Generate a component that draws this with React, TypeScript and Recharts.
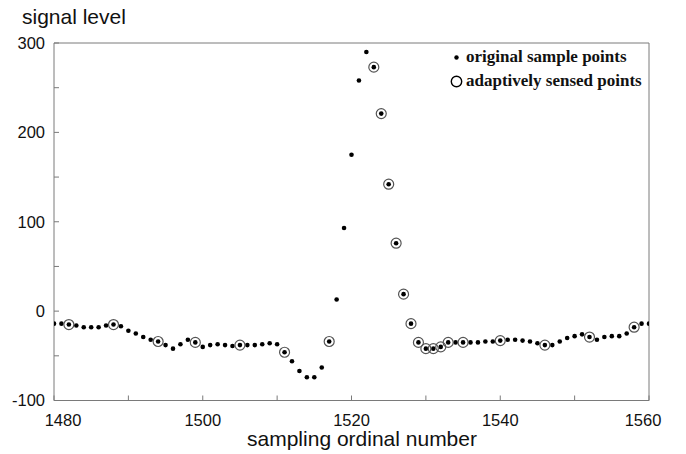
import { ScatterChart, Scatter, XAxis, YAxis, Legend } from 'recharts';

// sample ordinal of the first point; one sample per ordinal after it
const firstSample = 1480;

const signalLevel = [
  -14, -14, -15, -16, -18, -18, -18, -16, -15, -17,
  -22, -25, -29, -32, -34, -38, -42, -37, -32, -35,
  -40, -38, -37, -38, -39, -38, -38, -38, -37, -36,
  -37, -46, -56, -67, -74, -74, -63, -34, 13, 93,
  175, 258, 290, 273, 221, 142, 76, 19, -14, -35,
  -42, -42, -40, -35, -35, -35, -35, -35, -34, -34,
  -33, -32, -32, -33, -34, -36, -38, -38, -34, -30,
  -28, -26, -29, -32, -29, -28, -28, -25, -18, -14,
  -14,
];

const sensedOrdinals = [
  1482, 1488, 1494, 1499, 1505, 1511, 1517, 1523, 1524, 1525, 1526, 1527,
  1528, 1529, 1530, 1531, 1532, 1533, 1535, 1540, 1546, 1552, 1558,
];

const xTicks = [1480, 1490, 1500, 1510, 1520, 1530, 1540, 1550, 1560];
const xLabelled = [1480, 1500, 1520, 1540, 1560];
const yTicks = [-100, -50, 0, 50, 100, 150, 200, 250, 300];
const yLabelled = [-100, 0, 100, 200, 300];

const sampleName = 'original sample points';
const sensedName = 'adaptively sensed points';
const legendOrder = [sampleName, sensedName];

const samples = signalLevel.map((level, i) => ({ n: firstSample + i, level }));
const sensed = sensedOrdinals.map((n) => ({ n, level: signalLevel[n - firstSample] }));

const axisGrey = '#7a7a7a';
const sans = '"Liberation Sans", Arial, sans-serif';

function XTick(props: any) {
  const { x, y, payload } = props;
  if (!xLabelled.includes(payload.value)) return <g />;
  let dx = 0;
  if (payload.value === 1480) dx = 9;
  if (payload.value === 1560) dx = -6;
  return (
    <text x={x + dx} y={y + 30} textAnchor="middle" fontFamily={sans} fontSize={16.5} fill="#111">
      {payload.value}
    </text>
  );
}

function YTick(props: any) {
  const { x, y, payload } = props;
  if (!yLabelled.includes(payload.value)) return <g />;
  return (
    <text x={x - 14} y={y} dy="0.35em" textAnchor="end" fontFamily={sans} fontSize={16.5} fill="#111">
      {payload.value}
    </text>
  );
}

function LegendBox(props: any) {
  const payload = [...(props.payload ?? [])].sort(
    (a: any, b: any) => legendOrder.indexOf(a.value) - legendOrder.indexOf(b.value)
  );
  return (
    <div
      style={{
        fontFamily: '"Liberation Serif", "Times New Roman", serif',
        fontWeight: 'bold',
        fontSize: 17,
        lineHeight: '24px',
        color: '#111',
        whiteSpace: 'nowrap',
      }}
    >
      {payload.map((entry: any) => (
        <div key={entry.value} style={{ display: 'flex', alignItems: 'center' }}>
          <svg width={13} height={13} style={{ marginRight: 3 }}>
            {entry.value === sampleName ? (
              <circle cx={6.5} cy={6.5} r={2.2} fill="#000" />
            ) : (
              <circle cx={6.5} cy={6.5} r={5.2} fill="none" stroke="#000" strokeWidth={1.4} />
            )}
          </svg>
          {entry.value}
        </div>
      ))}
    </div>
  );
}

const dot = (p: any) => <circle cx={p.cx} cy={p.cy} r={2.3} fill="#000" />;
const ring = (p: any) => (
  <circle cx={p.cx} cy={p.cy} r={5} fill="none" stroke="#555" strokeWidth={1.2} />
);

export default function App() {
  return (
    <div style={{ position: 'absolute', left: 0, top: 0, background: '#fff' }}>
      <ScatterChart width={686} height={454} margin={{ top: 42, right: 36, bottom: 23.5, left: 0 }}>
        <XAxis
          dataKey="n"
          type="number"
          domain={[1480, 1560]}
          ticks={xTicks}
          interval={0}
          allowDataOverflow
          stroke={axisGrey}
          tickSize={-5}
          tickMargin={0}
          tick={XTick}
          height={30}
          label={() => (
            <text x={362} y={446} textAnchor="middle" fontFamily={sans} fontSize={21} fill="#111">
              sampling ordinal number
            </text>
          )}
        />
        <XAxis
          xAxisId="top"
          orientation="top"
          type="number"
          domain={[1480, 1560]}
          ticks={xTicks}
          interval={0}
          allowDataOverflow
          stroke={axisGrey}
          tickSize={-5}
          tick={false}
          height={1}
        />
        <YAxis
          dataKey="level"
          type="number"
          domain={[-100, 300]}
          ticks={yTicks}
          interval={0}
          allowDataOverflow
          stroke={axisGrey}
          tickSize={-5}
          tickMargin={0}
          tick={YTick}
          width={54}
          label={() => (
            <text x={22} y={24} fontFamily={sans} fontSize={21} fill="#111">
              signal level
            </text>
          )}
        />
        <YAxis
          yAxisId="right"
          orientation="right"
          type="number"
          domain={[-100, 300]}
          ticks={yTicks}
          interval={0}
          allowDataOverflow
          stroke={axisGrey}
          tickSize={-5}
          tick={false}
          width={1}
        />
        <Legend
          layout="horizontal"
          align="center"
          verticalAlign="middle"
          wrapperStyle={{ top: 45, left: 450, width: 'auto' }}
          content={LegendBox}
        />
        <Scatter name={sampleName} data={samples} shape={dot} isAnimationActive={false} />
        <Scatter name={sensedName} data={sensed} shape={ring} isAnimationActive={false} />
      </ScatterChart>
    </div>
  );
}
